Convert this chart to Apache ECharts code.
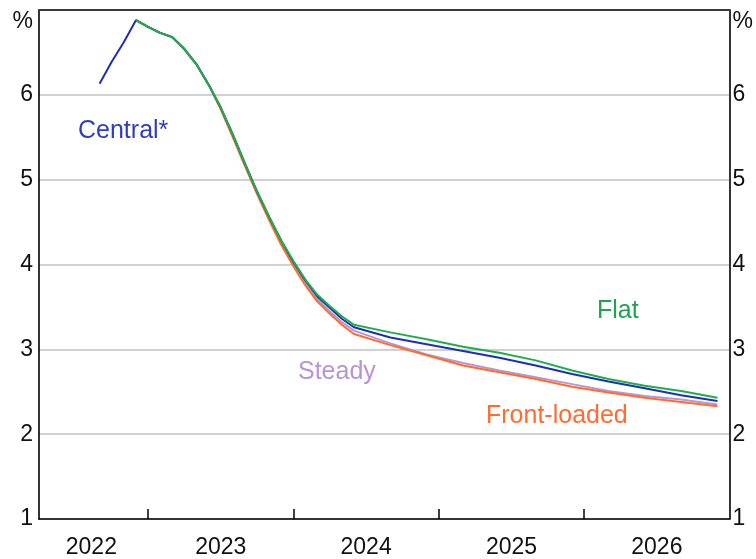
<!DOCTYPE html>
<html>
<head>
<meta charset="utf-8">
<script src="https://cdn.jsdelivr.net/npm/echarts@6/dist/echarts.min.js"></script>
<style>
  html, body { margin: 0; padding: 0; background: #fff; }
  #chart { width: 756px; height: 559px; }
</style>
</head>
<body>
<div id="chart"></div>
<script>
// Months (YYYY-MM) at which each path is recorded
const leadInDates = ['2022-09', '2022-10', '2022-11'];
const pathDates = [
  '2022-12', '2023-01', '2023-02', '2023-03', '2023-04', '2023-05', '2023-06',
  '2023-07', '2023-08', '2023-09', '2023-10', '2023-11', '2023-12',
  '2024-01', '2024-02', '2024-03', '2024-04', '2024-05', '2024-06',
  '2024-09', '2024-12', '2025-03', '2025-06', '2025-09', '2025-12',
  '2026-03', '2026-06', '2026-09', '2026-12'
];

// Year-ended rates, per cent
const centralLeadIn = [6.13, 6.39, 6.62];
const centralValues = [
  6.88, 6.80, 6.73, 6.68, 6.54, 6.36, 6.12,
  5.85, 5.53, 5.19, 4.86, 4.56, 4.28,
  4.03, 3.81, 3.62, 3.49, 3.36, 3.26,
  3.14, 3.06, 2.98, 2.90, 2.81, 2.71,
  2.62, 2.54, 2.46, 2.39
];
const flatValues = [
  6.88, 6.80, 6.73, 6.68, 6.54, 6.36, 6.12,
  5.85, 5.53, 5.19, 4.86, 4.56, 4.28,
  4.04, 3.82, 3.64, 3.51, 3.39, 3.29,
  3.20, 3.12, 3.03, 2.96, 2.87, 2.75,
  2.65, 2.57, 2.51, 2.43
];
const steadyValues = [
  6.88, 6.80, 6.73, 6.68, 6.54, 6.36, 6.12,
  5.85, 5.53, 5.19, 4.85, 4.54, 4.25,
  4.00, 3.78, 3.59, 3.45, 3.32, 3.22,
  3.07, 2.94, 2.84, 2.75, 2.67, 2.59,
  2.51, 2.45, 2.41, 2.35
];
const frontLoadedValues = [
  6.88, 6.80, 6.73, 6.68, 6.54, 6.36, 6.12,
  5.83, 5.50, 5.16, 4.83, 4.52, 4.23,
  3.98, 3.75, 3.56, 3.42, 3.29, 3.18,
  3.05, 2.93, 2.81, 2.73, 2.65, 2.56,
  2.49, 2.43, 2.38, 2.33
];

// Axis settings
const yearLabels = ['2022', '2023', '2024', '2025', '2026'];
const yearLabelPositions = [2022.61, 2023.5, 2024.5, 2025.5, 2026.5];
const yearBoundaries = [2023, 2024, 2025, 2026];
const xStart = 2022.25;
const xEnd = 2027;
const yMin = 1;
const yMax = 7;

const FONT = '"Liberation Sans", Arial, sans-serif';

function toYear(ym) {
  const [y, m] = ym.split('-').map(Number);
  return y + (m - 1) / 12;
}
function pairs(dates, values) {
  return dates.map((d, i) => [toYear(d), values[i]]);
}

const COLORS = {
  central: '#1e2fb3',
  flat: '#1fae4c',
  steady: '#b896d2',
  front: '#ff6b2c'
};

const yLabel = {
  fontFamily: FONT,
  fontSize: 23,
  color: '#111',
  formatter: v => (v === yMax ? '{p|%}' : String(v)),
  rich: { p: { fontFamily: FONT, fontSize: 23, color: '#111', padding: [24, 0, 0, 0] } },
  showMaxLabel: true,
  showMinLabel: true
};

function lineSeries(name, data, color) {
  return {
    name, type: 'line', data,
    xAxisIndex: 0, yAxisIndex: 0,
    showSymbol: false, symbol: 'none',
    lineStyle: { color, width: 2 },
    itemStyle: { color },
    animation: false
  };
}

const chart = echarts.init(document.getElementById('chart'), null, { renderer: 'canvas' });

chart.setOption({
  backgroundColor: '#ffffff',
  animation: false,
  grid: { left: 39, right: 24, top: 10, bottom: 39, containLabel: false },
  xAxis: [
    {
      type: 'value', min: xStart, max: xEnd, position: 'bottom',
      axisLine: { show: true, lineStyle: { color: '#000', width: 1.6 } },
      axisTick: {
        show: true, inside: true, length: 10,
        customValues: yearBoundaries,
        lineStyle: { color: '#000', width: 1.5 }
      },
      axisLabel: {
        show: true, margin: 17,
        customValues: yearLabelPositions,
        formatter: v => yearLabels[yearLabelPositions.findIndex(p => Math.abs(p - v) < 1e-6)] || '',
        fontFamily: FONT, fontSize: 23, color: '#111'
      },
      splitLine: { show: false }
    },
    {
      type: 'value', min: xStart, max: xEnd, position: 'top',
      axisLine: { show: true, lineStyle: { color: '#3a3a3a', width: 2 } },
      axisTick: { show: false }, axisLabel: { show: false }, splitLine: { show: false }
    }
  ],
  yAxis: [
    {
      type: 'value', min: yMin, max: yMax, interval: 1, position: 'left',
      axisLine: { show: true, lineStyle: { color: '#000', width: 1.6 } },
      axisTick: { show: false },
      axisLabel: Object.assign({ margin: 6 }, yLabel),
      splitLine: { show: true, lineStyle: { color: '#c2c2c2', width: 1.6 } }
    },
    {
      type: 'value', min: yMin, max: yMax, interval: 1, position: 'right',
      axisLine: { show: true, lineStyle: { color: '#000', width: 1.6 } },
      axisTick: { show: false },
      axisLabel: Object.assign({ margin: 3 }, yLabel),
      splitLine: { show: false }
    }
  ],
  series: [
    lineSeries('Steady', pairs(pathDates, steadyValues), COLORS.steady),
    lineSeries('Front-loaded', pairs(pathDates, frontLoadedValues), COLORS.front),
    lineSeries('Central*', pairs(leadInDates.concat(pathDates), centralLeadIn.concat(centralValues)), COLORS.central),
    lineSeries('Flat', pairs(pathDates, flatValues), COLORS.flat)
  ],
  graphic: [
    { type: 'text', left: 78, top: 119, style: { text: 'Central*', fill: '#2f3cc4', font: '25px ' + FONT } },
    { type: 'text', left: 597, top: 299, style: { text: 'Flat', fill: '#22a252', font: '25px ' + FONT } },
    { type: 'text', left: 298, top: 360, style: { text: 'Steady', fill: '#b794d4', font: '25px ' + FONT } },
    { type: 'text', left: 486, top: 404, style: { text: 'Front-loaded', fill: '#ff6b30', font: '25px ' + FONT } }
  ]
});
</script>
</body>
</html>
